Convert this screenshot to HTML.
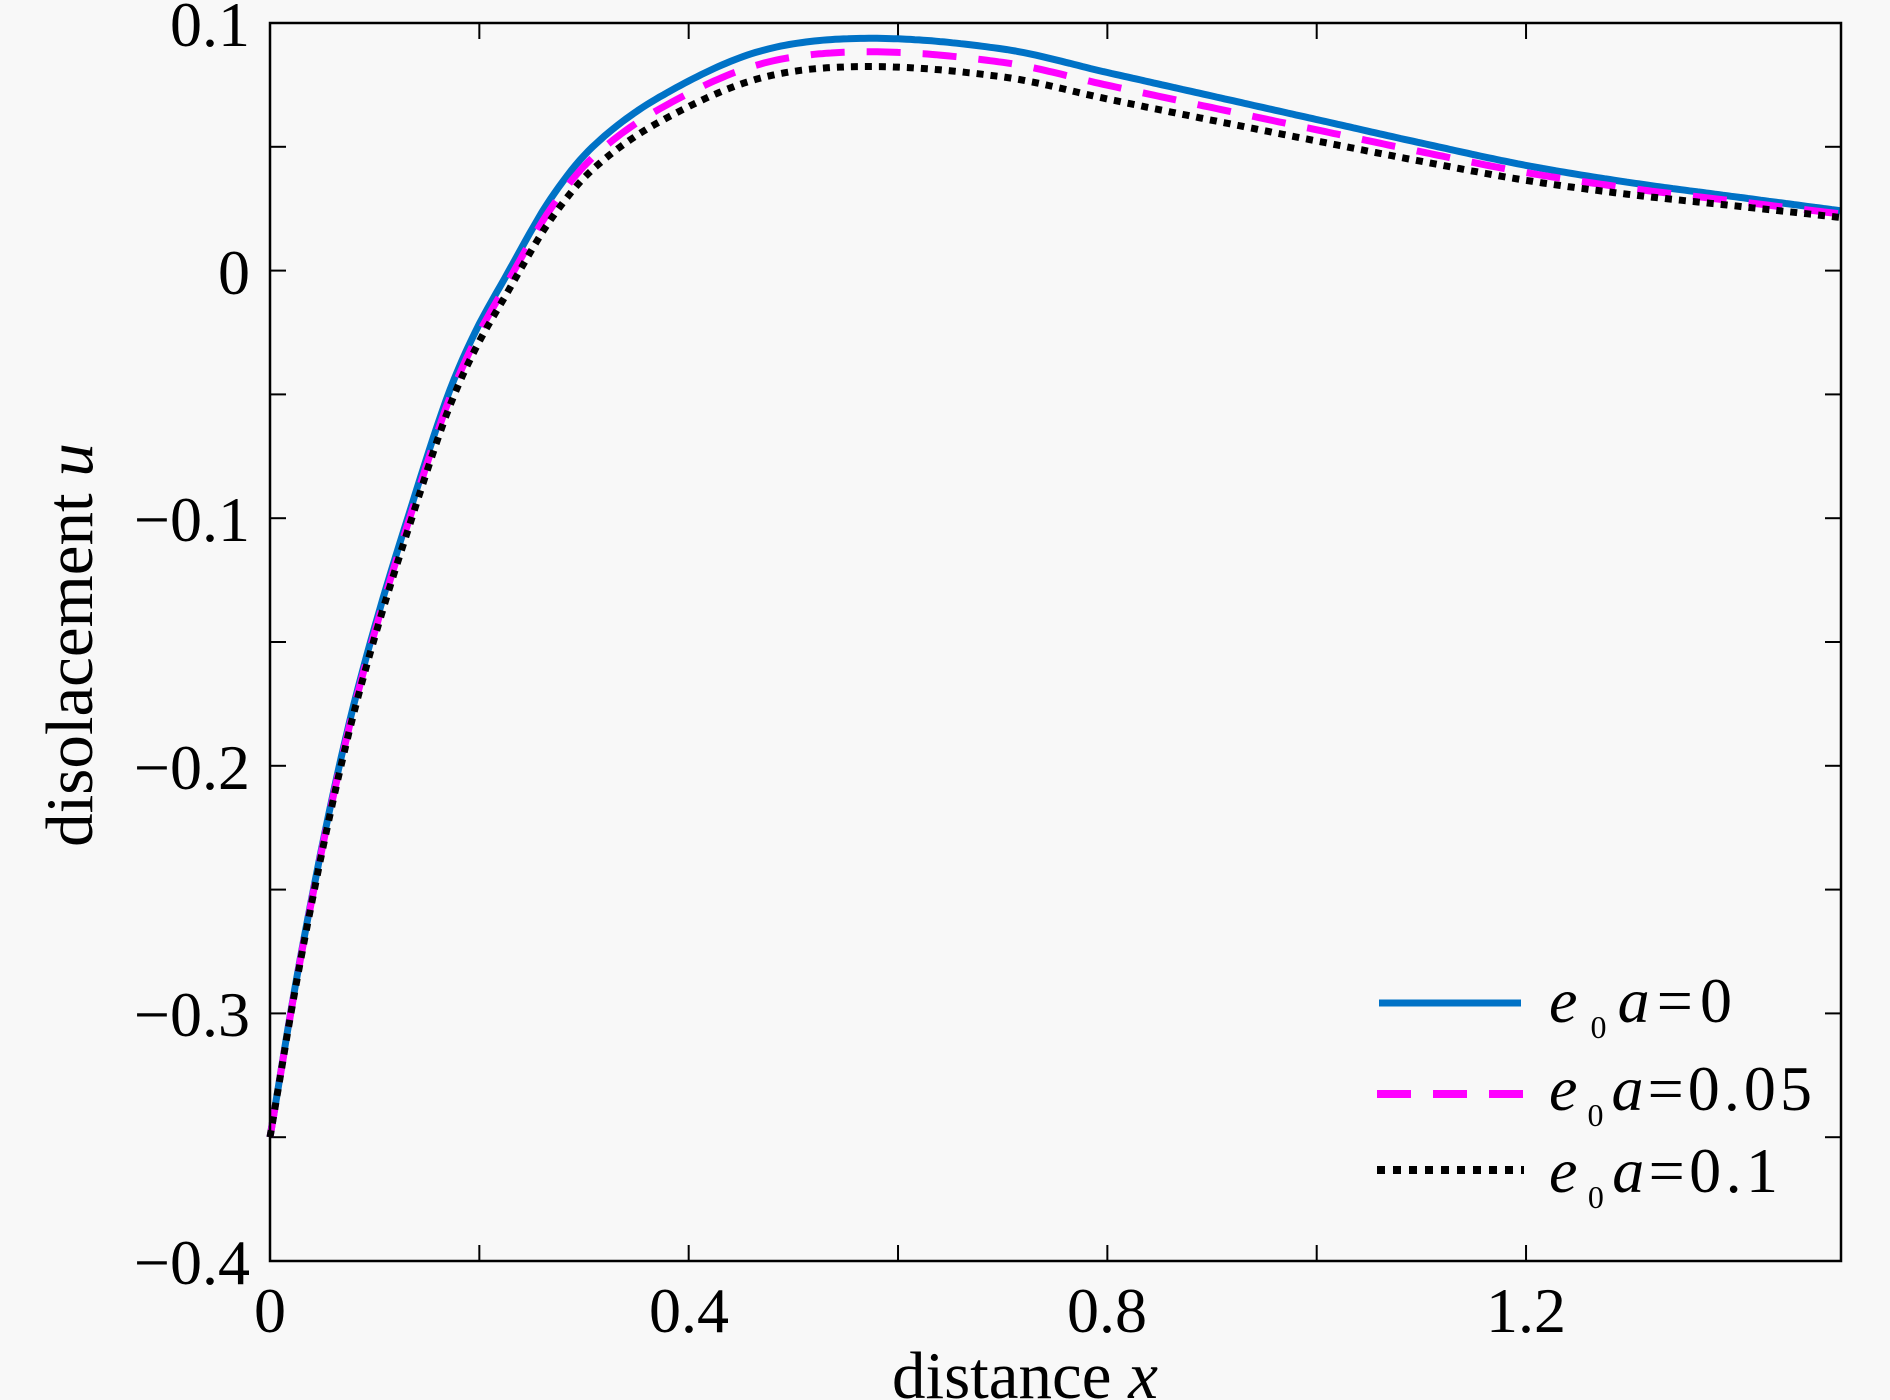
<!DOCTYPE html>
<html><head><meta charset="utf-8"><style>
html,body{margin:0;padding:0;background:#f8f8f8;}
svg{display:block;font-family:"Liberation Serif",serif;}
</style></head><body>
<svg id="s" width="1890" height="1400" viewBox="0 0 1890 1400" xmlns="http://www.w3.org/2000/svg">
<rect width="1890" height="1400" fill="#f8f8f8"/>
<g id="ticks" stroke="#000" stroke-width="2"></g>
<g id="curves" fill="none"></g>
<rect x="270" y="23" width="1571" height="1238" fill="none" stroke="#000" stroke-width="2.5"/>
<g font-size="64" fill="#000" text-anchor="end">
<text x="250" y="46">0.1</text>
<text x="250" y="294">0</text>
<text x="250" y="541">−0.1</text>
<text x="250" y="789">−0.2</text>
<text x="250" y="1036">−0.3</text>
<text x="250" y="1284">−0.4</text>
</g>
<g font-size="64" fill="#000" text-anchor="middle">
<text x="270" y="1332">0</text>
<text x="689" y="1332">0.4</text>
<text x="1107" y="1332">0.8</text>
<text x="1526" y="1332">1.2</text>
</g>
<g font-size="67" fill="#000" text-anchor="middle">
<text x="1025" y="1398">distance <tspan font-style="italic">x</tspan></text>
<text transform="translate(92,645) rotate(-90)">disolacement <tspan font-style="italic">u</tspan></text>
</g>
<line x1="1379" y1="1003" x2="1521" y2="1003" stroke="#0072c6" stroke-width="7"/>
<line x1="1377" y1="1094" x2="1524" y2="1094" stroke="#ff00ff" stroke-width="8" stroke-dasharray="34 22"/>
<line x1="1377" y1="1170" x2="1524" y2="1170" stroke="#000" stroke-width="8" stroke-dasharray="8 8"/>
<g font-size="64" fill="#000">
<text x="1549" y="1022" textLength="183" lengthAdjust="spacing"><tspan font-style="italic">e</tspan><tspan font-size="32" dx="6" dy="16">0</tspan><tspan font-style="italic" dx="4" dy="-16">a</tspan>=0</text>
<text x="1549" y="1110" textLength="263" lengthAdjust="spacing"><tspan font-style="italic">e</tspan><tspan font-size="32" dx="6" dy="16">0</tspan><tspan font-style="italic" dx="4" dy="-16">a</tspan>=0.05</text>
<text x="1549" y="1192" textLength="229" lengthAdjust="spacing"><tspan font-style="italic">e</tspan><tspan font-size="32" dx="6" dy="16">0</tspan><tspan font-style="italic" dx="4" dy="-16">a</tspan>=0.1</text>
</g>
</svg>
<script>
(function(){
function X(x){return 270+x*1046.7;}
function Y(v){return 23+(0.1-v)*2476;}
var t=document.getElementById("ticks"),h="";
for(var i=1;i<7;i++){var x=X(i*0.2);h+='<line x1="'+x+'" y1="1261" x2="'+x+'" y2="1245"/><line x1="'+x+'" y1="23" x2="'+x+'" y2="39"/>';}
for(var j=1;j<10;j++){var y=Y(0.1-j*0.05);h+='<line x1="270" y1="'+y+'" x2="286" y2="'+y+'"/><line x1="1841" y1="'+y+'" x2="1825" y2="'+y+'"/>';}
t.innerHTML=h;
var P=[[0,-0.35],[0.025,-0.287],[0.05,-0.232],[0.075,-0.184],[0.102,-0.141],[0.14,-0.0886],[0.169,-0.0515],[0.194,-0.0266],[0.226,-0.0018],[0.2675,0.0286],[0.309,0.0503],[0.373,0.0703],[0.468,0.0886],[0.57,0.0938],[0.7,0.0895],[0.8,0.0800],[0.9,0.0705],[1.0,0.0610],[1.1,0.0515],[1.2,0.0425],[1.3,0.0355],[1.4,0.0298],[1.5,0.0242]];
function interp(x){
 for(var k=0;k<P.length-1;k++){if(x<=P[k+1][0]+1e-9){
  var p0=P[Math.max(k-1,0)],p1=P[k],p2=P[k+1],p3=P[Math.min(k+2,P.length-1)];
  var tt=(x-p1[0])/(p2[0]-p1[0]);
  var m1=(p2[1]-p0[1])/(p2[0]-p0[0])*(p2[0]-p1[0]);
  var m2=(p3[1]-p1[1])/(p3[0]-p1[0])*(p2[0]-p1[0]);
  var t2=tt*tt,t3=t2*tt;
  return (2*t3-3*t2+1)*p1[1]+(t3-2*t2+tt)*m1+(-2*t3+3*t2)*p2[1]+(t3-t2)*m2;}}
 return P[P.length-1][1];}
function path(sc){var d="";for(var x=0;x<=1.5001;x+=0.004){var xx=Math.min(x,1.5);var off=sc*(1-Math.exp(-xx/0.12))*Math.exp(-Math.pow((xx-0.6)/0.75,2));var v=interp(xx)-off;d+=(d?"L":"M")+X(xx).toFixed(1)+","+Y(v).toFixed(1);}return d;}
var c=document.getElementById("curves");
c.innerHTML='<path d="'+path(0)+'" stroke="#0072c6" stroke-width="7"/>'+
'<path d="'+path(0.0055)+'" stroke="#ff00ff" stroke-width="7" stroke-dasharray="34 22"/>'+
'<path d="'+path(0.0115)+'" stroke="#000" stroke-width="7" stroke-dasharray="7 7"/>';
})();
</script>
</body></html>
